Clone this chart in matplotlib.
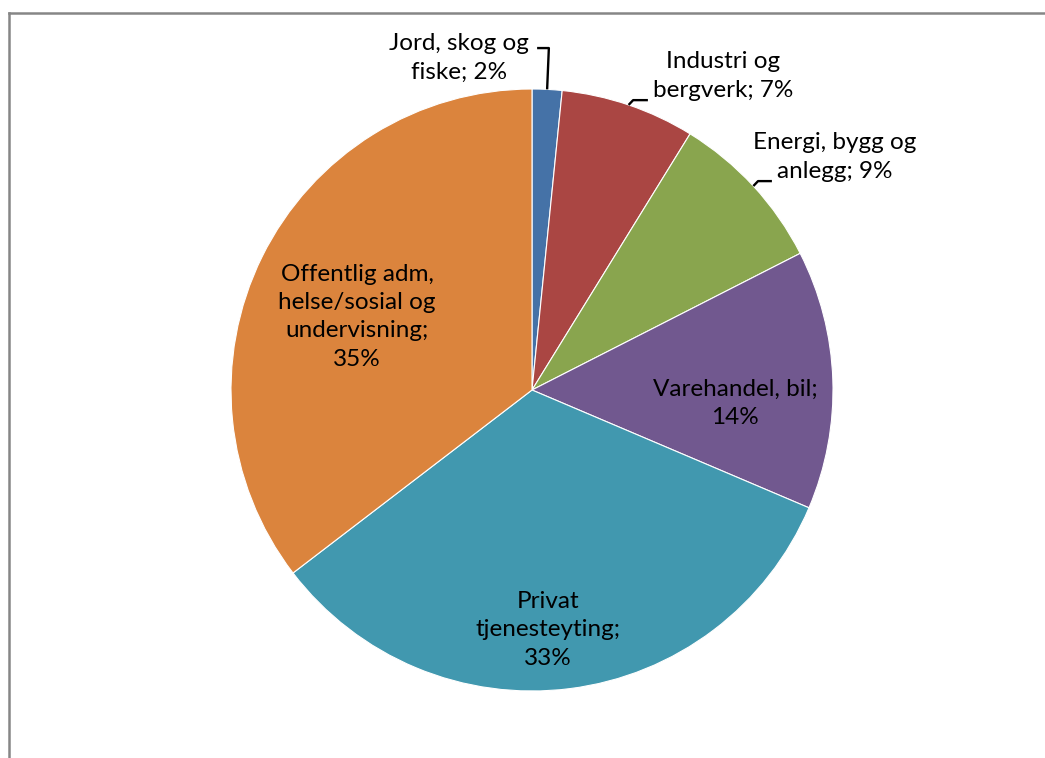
import numpy as np
import matplotlib.pyplot as plt
from matplotlib.lines import Line2D

plt.rcParams['font.family'] = ['Lato', 'DejaVu Sans']

# Sysselsatte etter næring (andel i prosent)
naering = ['Jord, skog og\nfiske', 'Industri og\nbergverk', 'Energi, bygg og\nanlegg',
           'Varehandel, bil', 'Privat\ntjenesteyting', 'Offentlig adm,\nhelse/sosial og\nundervisning']
andel = [1.6, 7.2, 8.7, 13.9, 33.2, 35.4]
farger = ['#4572A7', '#AA4643', '#89A54E', '#71588F', '#4198AF', '#DB843D']

# label placement (data units, pie radius = 1)
tekst_pos = [(-0.243, 1.103), (0.635, 1.043), (1.007, 0.774),
             (0.674, -0.043), (0.053, -0.797), (-0.581, 0.243)]
utenfor = [True, True, True, False, False, False]
# leader lines: elbow and end point for the outside labels
leder = {0: [(0.056, 1.136), (0.017, 1.136)],
         1: [(0.336, 0.963), (0.385, 0.963)],
         2: [(0.751, 0.694), (0.797, 0.694)]}

W, H = 1045, 758
fig = plt.figure(figsize=(W / 100, H / 100), dpi=100)
R = 301
cx, cy = 532, 390
ax = fig.add_axes([(cx - 1.5 * R) / W, (H - cy - 1.5 * R) / H, 3 * R / W, 3 * R / H])

wedges, _ = ax.pie(andel, colors=farger, startangle=90, counterclock=False,
                   radius=1, wedgeprops=dict(edgecolor='white', linewidth=0.8))
ax.set_xlim(-1.5, 1.5)
ax.set_ylim(-1.5, 1.5)
ax.set_aspect('equal')
ax.axis('off')

tot = sum(andel)
for i, (navn, v) in enumerate(zip(naering, andel)):
    pst = int(round(v / tot * 100))
    if utenfor[i]:
        txt = navn + '; %d%%' % pst
    else:
        txt = navn + ';\n%d%%' % pst
    x, y = tekst_pos[i]
    ax.text(x, y, txt, ha='center', va='center', fontsize=17.5,
            color='black', linespacing=1.42)
    if utenfor[i]:
        w = wedges[i]
        mid = np.deg2rad((w.theta1 + w.theta2) / 2)
        px, py = np.cos(mid), np.sin(mid)
        pts = [(px, py)] + leder[i]
        ax.plot([p[0] for p in pts], [p[1] for p in pts], color='black', lw=1.7,
                solid_capstyle='butt')

# chart area border (top and left edges visible)
fig.add_artist(Line2D([9 / W, 1.0], [1 - 13 / H, 1 - 13 / H], color='#868686', lw=1.8,
                      transform=fig.transFigure))
fig.add_artist(Line2D([9 / W, 9 / W], [0.0, 1 - 13 / H], color='#868686', lw=1.8,
                      transform=fig.transFigure))

fig.savefig('out.png', dpi=100)
